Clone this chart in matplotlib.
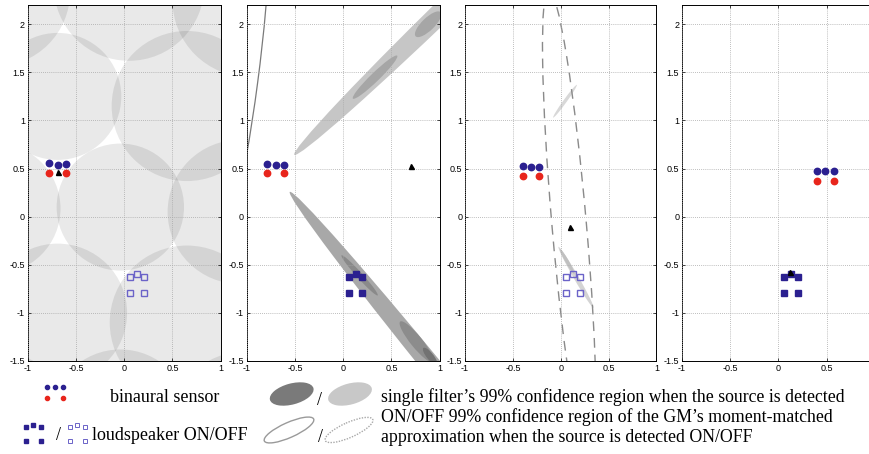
import matplotlib
matplotlib.use("Agg")
import matplotlib.pyplot as plt
from matplotlib.patches import Ellipse, Circle

# ---------------- data ----------------
x_ticks = [-1, -0.5, 0, 0.5, 1]
x_tick_labels = ["-1", "-0.5", "0", "0.5", "1"]
y_ticks = [-1.5, -1, -0.5, 0, 0.5, 1, 1.5, 2]
y_tick_labels = ["-1.5", "-1", "-0.5", "0", "0.5", "1", "1.5", "2"]

# loudspeaker (same in all panels)
spk_x = [0.06, 0.13, 0.20, 0.06, 0.20]
spk_y = [-0.63, -0.60, -0.63, -0.79, -0.79]
spk_on = [False, True, False, True]

# binaural sensor per panel: blue (top row) and red (bottom row)
sens_blue_x = [[-0.776, -0.69, -0.60], [-0.786, -0.70, -0.614],
               [-0.397, -0.313, -0.226], [0.404, 0.487, 0.57]]
sens_blue_y = [[0.556, 0.54, 0.545], [0.549, 0.54, 0.54],
               [0.531, 0.52, 0.52], [0.473, 0.473, 0.473]]
sens_red_x = [[-0.776, -0.60], [-0.786, -0.614],
              [-0.397, -0.226], [0.404, 0.57]]
sens_red_y = [[0.45, 0.45], [0.45, 0.45], [0.427, 0.427], [0.37, 0.37]]

# estimated source position (black triangle)
src_x = [-0.683, 0.70, 0.097, 0.12]
src_y = [0.46, 0.53, -0.105, -0.575]

# panel 1: overlapping confidence discs (cx, cy, r)
p1_cx = [-1.34, -0.04, 1.26, -1.99, -0.69, 0.65, -1.34, -0.04, 1.20, -0.69, 0.65, -1.34, 0.05, 1.30]
p1_cy = [-2.17, -2.10, -2.20, -1.04, -1.00, -1.10, 0.085, 0.10, 0.05, 1.25, 1.15, 2.34, 2.40, 2.25]
p1_r = [0.78, 0.72, 0.80, 0.75, 0.72, 0.80, 0.68, 0.66, 0.75, 0.66, 0.78, 0.78, 0.78, 0.80]

# panel 2: filled single-filter regions (cx, cy, major, minor, angle, colour)
p2_cx = [1.30, 0.33, 0.88, 1.20, 0.17, 0.76, 0.90]
p2_cy = [2.40, 1.45, 2.00, -1.90, -0.61, -1.30, -1.45]
p2_w = [5.04, 0.64, 0.36, 5.56, 0.56, 0.54, 0.22]
p2_h = [0.22, 0.09, 0.13, 0.205, 0.06, 0.12, 0.07]
p2_ang = [44.2, 44.2, 44.2, -50.9, -48.0, -51.1, -51.1]
p2_col = ["#c6c6c6", "#a6a6a6", "#a6a6a6", "#a8a8a8", "#8a8a8a", "#8c8c8c", "#727272"]
# panel 2: GM moment-matched region (ON, solid)
p2_gm = dict(cx=-1.73, cy=1.5, w=1.70, h=8.0, ang=-7.5)

# panel 3: filled OFF regions (cx, cy, major, minor, angle, colour)
p3_cx = [0.045, 0.16, 0.07]
p3_cy = [1.20, -0.63, -0.47]
p3_w = [0.42, 0.73, 0.30]
p3_h = [0.035, 0.05, 0.035]
p3_ang = [54.0, -60.0, -60.0]
p3_col = ["#d8d8d8", "#d4d4d4", "#c0c0c0"]
# panel 3: GM moment-matched region (OFF, dashed)
p3_gm = dict(cx=0.09, cy=-0.1, w=0.36, h=4.94, ang=5.0)

# ---------------- figure ----------------
W, H = 870, 454
fig = plt.figure(figsize=(W / 100, H / 100), dpi=100)

BLUE = "#2b2090"
RED = "#e8251c"
HOLLOW = "#6b63c8"
SANS = ["Liberation Sans", "DejaVu Sans"]
SERIF = ["Liberation Serif", "DejaVu Serif"]

lefts = [27.7, 246.7, 465.0, 682.0]
widths = [193.0, 193.0, 191.4, 193.0]
top_px, bot_px = 5.0, 361.0

axes = []
for i in range(4):
    ax = fig.add_axes([lefts[i] / W, (H - bot_px) / H, widths[i] / W, (bot_px - top_px) / H])
    ax.set_xlim(-1, 1)
    ax.set_ylim(-1.5, 2.2)
    ax.set_xticks(x_ticks)
    labels = list(x_tick_labels)
    if i == 3:
        labels[-1] = ""  # falls outside the picture
    ax.set_xticklabels(labels, fontsize=6.5, family=SANS)
    ax.set_yticks(y_ticks)
    ax.set_yticklabels(y_tick_labels, fontsize=6.5, family=SANS)
    ax.tick_params(direction="in", length=2.5, width=0.5, top=True, right=True, pad=2)
    ax.grid(True, color="#a8a8a8", linestyle=(0, (1, 1.5)), linewidth=0.6)
    ax.set_axisbelow(False)
    for s in ax.spines.values():
        s.set_linewidth(0.7)
    axes.append(ax)

# panel 1 discs
ax = axes[0]
for cx, cy, r in zip(p1_cx, p1_cy, p1_r):
    ax.add_patch(Circle((cx, cy), r, facecolor="black", alpha=0.085, edgecolor="none", zorder=0.5))

# panel 2
ax = axes[1]
for cx, cy, w, h, a, c in zip(p2_cx, p2_cy, p2_w, p2_h, p2_ang, p2_col):
    ax.add_patch(Ellipse((cx, cy), w, h, angle=a, facecolor=c, edgecolor="none", zorder=0.5))
ax.add_patch(Ellipse((p2_gm["cx"], p2_gm["cy"]), p2_gm["w"], p2_gm["h"], angle=p2_gm["ang"],
                     facecolor="none", edgecolor="#7a7a7a", linewidth=0.9, zorder=1))

# panel 3
ax = axes[2]
for cx, cy, w, h, a, c in zip(p3_cx, p3_cy, p3_w, p3_h, p3_ang, p3_col):
    ax.add_patch(Ellipse((cx, cy), w, h, angle=a, facecolor=c, edgecolor="none", zorder=0.5))
ax.add_patch(Ellipse((p3_gm["cx"], p3_gm["cy"]), p3_gm["w"], p3_gm["h"], angle=p3_gm["ang"],
                     facecolor="none", edgecolor="#8a8a8a", linewidth=1.0,
                     linestyle=(0, (7, 5)), zorder=1))

# markers
for i, ax in enumerate(axes):
    if spk_on[i]:
        ax.plot(spk_x, spk_y, "s", ms=4.2, color=BLUE, mec=BLUE, zorder=3)
    else:
        ax.plot(spk_x, spk_y, "s", ms=4.2, mfc="none", mec=HOLLOW, mew=1.0, zorder=3)
    ax.plot(sens_blue_x[i], sens_blue_y[i], "o", ms=4.6, color=BLUE, zorder=3)
    ax.plot(sens_red_x[i], sens_red_y[i], "o", ms=4.6, color=RED, zorder=3)
    ax.plot([src_x[i]], [src_y[i]], "^", ms=3.6, color="black", zorder=4)

# ---------------- legend (pixel space) ----------------
lg = fig.add_axes([0, 0, 1, 1], zorder=-1)
lg.set_xlim(0, W)
lg.set_ylim(H, 0)
lg.axis("off")
lg.patch.set_alpha(0)

leg_blue_x = [46.7, 55.0, 63.3]
leg_red_x = [46.7, 63.3]
lg.plot(leg_blue_x, [387.3] * 3, "o", ms=3.0, color=BLUE)
lg.plot(leg_red_x, [398.3] * 2, "o", ms=3.0, color=RED)
lg.text(110, 401.7, "binaural sensor", fontsize=13, family=SERIF, va="baseline", ha="left")

lg.plot([25.7, 33.3, 40.7, 25.7, 40.7], [426.7, 425, 426.7, 441, 441], "s", ms=2.8, color=BLUE)
lg.text(58.3, 440, "/", fontsize=13, family=SERIF, va="baseline", ha="center")
lg.plot([70, 76.7, 85, 70, 85], [426.7, 425, 426.7, 441, 441], "s", ms=2.8, mfc="none", mec=HOLLOW, mew=0.7)
lg.text(92, 440, "loudspeaker ON/OFF", fontsize=13, family=SERIF, va="baseline", ha="left")

lg.add_patch(Ellipse((291.7, 394), 45, 21, angle=-15, facecolor="#7a7a7a", edgecolor="none"))
lg.text(320, 405, "/", fontsize=13, family=SERIF, va="baseline", ha="center")
lg.add_patch(Ellipse((350, 394), 45, 21, angle=-15, facecolor="#c8c8c8", edgecolor="none"))
lg.add_patch(Ellipse((289, 430), 54, 15, angle=-24, facecolor="none", edgecolor="#9a9a9a", linewidth=1.0))
lg.text(321, 442, "/", fontsize=13, family=SERIF, va="baseline", ha="center")
lg.add_patch(Ellipse((349, 430), 52, 15, angle=-24, facecolor="none", edgecolor="#a8a8a8",
                     linewidth=1.0, linestyle=(0, (1, 1))))

lines = ["single filter\u2019s 99% confidence region when the source is detected",
         "ON/OFF 99% confidence region of the GM\u2019s moment-matched",
         "approximation when the source is detected ON/OFF"]
for k, t in enumerate(lines):
    lg.text(381, 401.7 + 20 * k, t, fontsize=12.8, family=SERIF, va="baseline", ha="left")

fig.savefig("out.png", dpi=100)
